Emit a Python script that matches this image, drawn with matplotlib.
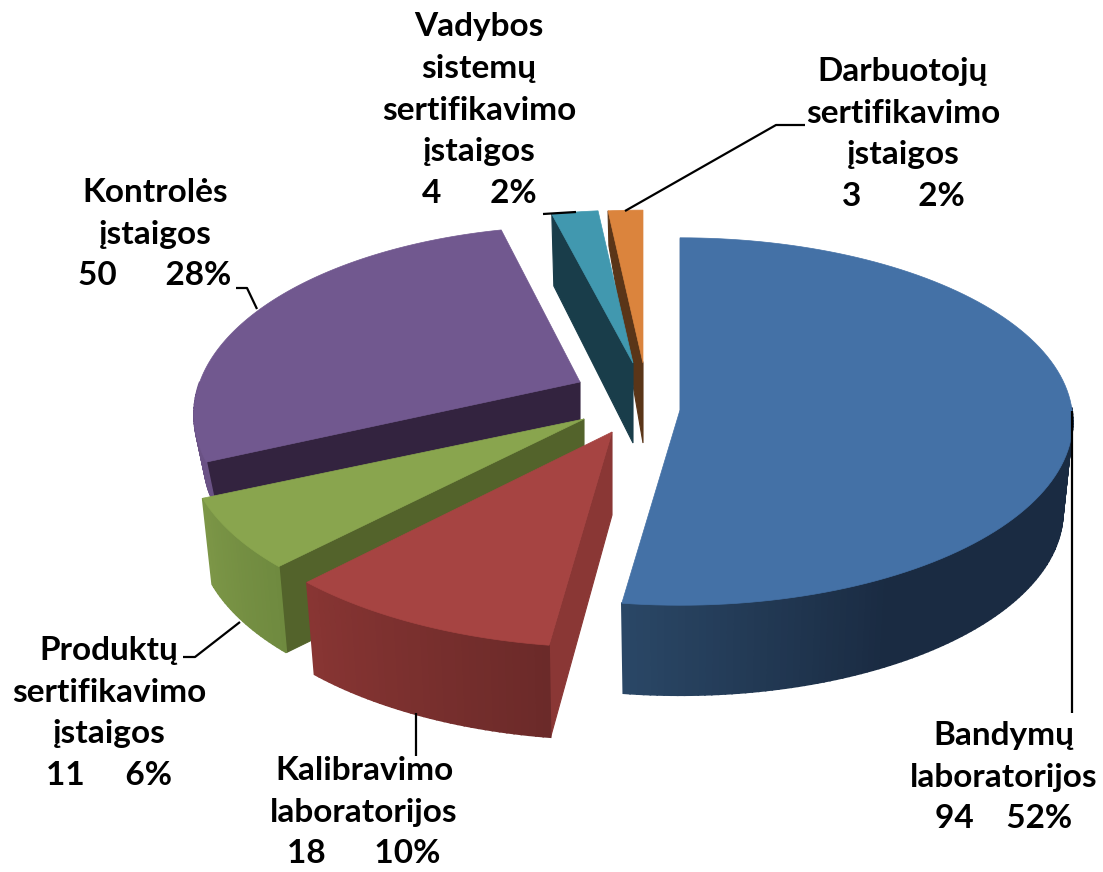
import numpy as np
import matplotlib
matplotlib.use('Agg')
import matplotlib.pyplot as plt
from matplotlib.colors import to_rgb

names = [['Bandymų', 'laboratorijos'],
         ['Kalibravimo', 'laboratorijos'],
         ['Produktų', 'sertifikavimo', 'įstaigos'],
         ['Kontrolės', 'įstaigos'],
         ['Vadybos', 'sistemų', 'sertifikavimo', 'įstaigos'],
         ['Darbuotojų', 'sertifikavimo', 'įstaigos']]
counts = [94, 18, 11, 50, 4, 3]
percents = [52, 10, 6, 28, 2, 2]

top_colors = ['#4471A6', '#A64442', '#89A54E', '#71588F', '#4198AF', '#DB843D']
cut_colors = ['#1B2D44', '#8A3735', '#53632B', '#33233F', '#193D4A', '#5A3518']
wall_start = ['#2A4766', '#6B2A29', '#6F8A3F', '#6A5285', '#193D4A', '#5A3518']
wall_end = ['#1A2B42', '#883533', '#7C9647', '#6A5285', '#193D4A', '#5A3518']

# slice layout in pixels: apex, scale, perspective, depth at apex and at rim
apex_x = [680, 612, 584, 580, 633, 643]
apex_y = [410, 432, 419, 382, 363, 363]
scale_x = [1.0, 1.04, 1.0, 0.97, 1.0, 1.0]
scale_y = [1.0, 1.06, 1.0, 1.0, 0.98, 0.98]
persp = [0.0627, 0.1, 0.15, 0.173, 0.173, 0.173]
depth_apex = [88, 83, 88, 45, 80, 80]
depth_rim = [90, 92, 86, 45, 72, 35]
RX, RY = 392, 183
BOTTOM_SHRINK = 0.975

draw_order = [5, 4, 3, 2, 1, 0]

label_x = [1004, 364, 109, 155, 479, 903]
label_y = [777, 812, 713, 234, 110, 134]
label_gap = [4, 6, 5, 6, 6, 7]

leaders = [[(1072, 411), (1072, 713)],
           [(416, 713), (416, 756)],
           [(240, 622), (195, 657), (183, 657)],
           [(257, 309), (247, 288), (236, 288)],
           [(543, 214), (576, 212)],
           [(625, 211), (776, 125), (805, 125)]]

plt.rcParams['font.family'] = ['Lato', 'DejaVu Sans']

fig = plt.figure(figsize=(11.03, 8.72), dpi=100)
ax = fig.add_axes([0, 0, 1, 1])
ax.set_xlim(0, 1103)
ax.set_ylim(872, 0)
ax.axis('off')


def rim(i, theta):
    v = np.cos(theta)
    s = 1 / (1 + persp[i] * v)
    return (RX * scale_x[i] * np.sin(theta) * s, -RY * scale_y[i] * v * s)


total = sum(counts)
edges = np.cumsum([0] + counts) / total * 2 * np.pi

for i in draw_order:
    t0, t1 = edges[i], edges[i + 1]
    ax_, ay_ = apex_x[i], apex_y[i]

    # cut face at the start angle, the only one that can be seen
    dx, dy = rim(i, t0)
    ax.fill([ax_, ax_ + dx, ax_ + dx * BOTTOM_SHRINK, ax_],
            [ay_, ay_ + dy, ay_ + dy + depth_rim[i], ay_ + depth_apex[i]],
            color=cut_colors[i], lw=0.8, zorder=1)

    # outer wall as thin strips, shade runs along the angle
    ts = np.linspace(t0, t1, int(max((t1 - t0) * 60, 2)) + 1)
    c0, c1 = np.array(to_rgb(wall_start[i])), np.array(to_rgb(wall_end[i]))
    for a, b in zip(ts[:-1], ts[1:]):
        if np.cos(a) > 0 and np.cos(b) > 0:
            continue
        mid = (a + b) / 2
        f = (mid - t0) / (t1 - t0)
        if i == 0:
            # light only near the cut, then flat dark
            f = 1 - np.clip((mid - np.radians(150)) / (t1 - np.radians(150)), 0, 1)
        col = c0 + (c1 - c0) * f
        xa, ya = rim(i, a)
        xb, yb = rim(i, b)
        ax.fill([ax_ + xa, ax_ + xb, ax_ + xb * BOTTOM_SHRINK, ax_ + xa * BOTTOM_SHRINK],
                [ay_ + ya, ay_ + yb, ay_ + yb + depth_rim[i], ay_ + ya + depth_rim[i]],
                color=col, lw=1.2, zorder=1)

    # top face
    ts = np.linspace(t0, t1, 120)
    pts = [rim(i, t) for t in ts]
    ax.fill([ax_] + [ax_ + p[0] for p in pts], [ay_] + [ay_ + p[1] for p in pts],
            color=top_colors[i], lw=0.5, zorder=1)

for line in leaders:
    ax.plot([p[0] for p in line], [p[1] for p in line], color='black', lw=1.6,
            solid_capstyle='butt', zorder=3)

for i in range(len(counts)):
    value_line = str(counts[i]) + ' ' * label_gap[i] + str(percents[i]) + '%'
    ax.text(label_x[i], label_y[i], '\n'.join(names[i] + [value_line]), ha='center', va='center',
            fontsize=24, fontweight='bold', color='black', linespacing=1.53, zorder=4)

fig.savefig('out.png', dpi=100)
